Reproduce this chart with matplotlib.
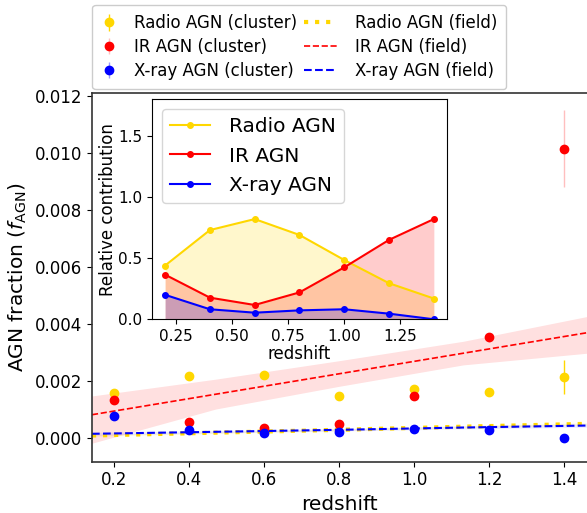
#!/usr/bin/env python3
#
#   AGN fraction vs redshift for cluster members and the field,
#   with an inset showing the relative contribution of each AGN type.
#

import matplotlib
matplotlib.use('Agg')
import matplotlib.pyplot as plt
from matplotlib.legend_handler import HandlerLine2D

# cluster AGN fractions per redshift bin
z = [0.2, 0.4, 0.6, 0.8, 1.0, 1.2, 1.4]
radio_cl = [0.00158, 0.00216, 0.00221, 0.00146, 0.00170, 0.00161, 0.00213]
radio_err = [0.00005, 0.00005, 0.00005, 0.00005, 0.00006, 0.00006, 0.00060]
ir_cl = [0.00130, 0.00054, 0.00033, 0.00047, 0.00146, 0.00352, 0.01015]
ir_err = [0.00006, 0.00005, 0.00005, 0.00005, 0.00007, 0.00015, 0.00135]
xray_cl = [0.00074, 0.00025, 0.00015, 0.00018, 0.00030, 0.00028, 0.00000]
xray_err = [0.00004, 0.00003, 0.00003, 0.00003, 0.00004, 0.00004, 0.00004]

# field trends (best fit and its confidence band)
z_field = [0.14, 0.47, 0.80, 1.13, 1.46]
radio_field = [0.00007, 0.00017, 0.00027, 0.00038, 0.00048]
radio_lo = [0.00004, 0.00014, 0.00024, 0.00034, 0.00044]
radio_hi = [0.00010, 0.00020, 0.00030, 0.00042, 0.00052]
ir_field = [0.00080, 0.00152, 0.00224, 0.00296, 0.00368]
ir_lo = [-0.00020, 0.00100, 0.00180, 0.00255, 0.00296]
ir_hi = [0.00146, 0.00205, 0.00270, 0.00338, 0.00425]
xray_field = [0.00013, 0.00020, 0.00027, 0.00035, 0.00042]
xray_lo = [0.00008, 0.00016, 0.00023, 0.00030, 0.00036]
xray_hi = [0.00018, 0.00024, 0.00031, 0.00040, 0.00048]

# relative contribution of each population
radio_rel = [0.44, 0.73, 0.82, 0.69, 0.485, 0.295, 0.17]
ir_rel = [0.365, 0.177, 0.117, 0.22, 0.425, 0.65, 0.82]
xray_rel = [0.20, 0.082, 0.054, 0.073, 0.082, 0.046, 0.0]


class LongLine(HandlerLine2D):
    # line handle that reaches further left than the legend's handlelength
    def __init__(self, extra=13, **kw):
        HandlerLine2D.__init__(self, **kw)
        self.extra = extra

    def create_artists(self, legend, orig_handle, xdescent, ydescent,
                       width, height, fontsize, trans):
        return HandlerLine2D.create_artists(self, legend, orig_handle,
                                            xdescent + self.extra, ydescent,
                                            width + self.extra, height,
                                            fontsize, trans)


fig = plt.figure(figsize=(5.87, 5.13), dpi=100)
ax = fig.add_axes([0.1567, 0.1, 0.8433, 0.7187])

# field fits
ax.fill_between(z_field, radio_lo, radio_hi, color='gold', alpha=0.12, lw=0)
ax.fill_between(z_field, ir_lo, ir_hi, color='red', alpha=0.12, lw=0)
ax.fill_between(z_field, xray_lo, xray_hi, color='blue', alpha=0.08, lw=0)
fld_radio, = ax.plot(z_field, radio_field, ':', color='gold', lw=3, label='Radio AGN (field)')
fld_ir, = ax.plot(z_field, ir_field, '--', color='red', lw=1.2, label='IR AGN (field)')
fld_xray, = ax.plot(z_field, xray_field, '--', color='blue', lw=1.5, label='X-ray AGN (field)')

# cluster points
cl_radio = ax.errorbar(z, radio_cl, yerr=radio_err, fmt='o', color='gold', ms=6,
                       ecolor='gold', elinewidth=1, label='Radio AGN (cluster)')
cl_ir = ax.errorbar(z, ir_cl, yerr=ir_err, fmt='o', color='red', ms=6,
                    ecolor=(1, 0, 0, 0.25), elinewidth=1, label='IR AGN (cluster)')
cl_xray = ax.errorbar(z, xray_cl, yerr=xray_err, fmt='o', color='blue', ms=6,
                      ecolor=(0, 0, 1, 0.4), elinewidth=1, label='X-ray AGN (cluster)')

ax.set_xlim(0.14, 1.46)
ax.set_ylim(-0.00085, 0.0121)
ax.set_xticks([0.2, 0.4, 0.6, 0.8, 1.0, 1.2, 1.4])
ax.set_yticks([0.0, 0.002, 0.004, 0.006, 0.008, 0.010, 0.012])
ax.tick_params(labelsize=12)
ax.set_xlabel('redshift', fontsize=14.5)
ax.set_ylabel(r'AGN fraction ($f_{\rm AGN}$)', fontsize=14.5)
ax.spines['right'].set_visible(False)
for s in ('left', 'top', 'bottom'):
    ax.spines[s].set_linewidth(1.2)
    ax.spines[s].set_color('#333333')

long_line = LongLine(extra=13)
fig.legend([cl_radio, cl_ir, cl_xray, fld_radio, fld_ir, fld_xray],
           ['Radio AGN (cluster)', 'IR AGN (cluster)', 'X-ray AGN (cluster)',
            'Radio AGN (field)', 'IR AGN (field)', 'X-ray AGN (field)'],
           loc='upper left', bbox_to_anchor=(92.3 / 587, 1 - 5 / 513),
           borderaxespad=0, borderpad=0.55, ncol=2, fontsize=12, framealpha=1,
           handlelength=0.9, handletextpad=1.05, columnspacing=1.5,
           labelspacing=0.35,
           handler_map={fld_radio: long_line, fld_ir: long_line, fld_xray: long_line})

# inset: relative contribution
ins = fig.add_axes([0.2584, 0.3776, 0.5036, 0.4288])
ins.fill_between(z, 0, radio_rel, color='gold', alpha=0.2, lw=0)
ins.fill_between(z, 0, ir_rel, color='red', alpha=0.2, lw=0)
ins.fill_between(z, 0, xray_rel, color='blue', alpha=0.2, lw=0)
ins.plot(z, radio_rel, 'o-', color='gold', ms=4, lw=1.5, label='Radio AGN')
ins.plot(z, ir_rel, 'o-', color='red', ms=4, lw=1.5, label='IR AGN')
ins.plot(z, xray_rel, 'o-', color='blue', ms=4, lw=1.5, label='X-ray AGN')
ins.set_xlim(0.14, 1.46)
ins.set_ylim(0, 1.8)
ins.set_xticks([0.25, 0.5, 0.75, 1.0, 1.25])
ins.set_yticks([0.0, 0.5, 1.0, 1.5])
ins.tick_params(labelsize=11)
ins.set_xlabel('redshift', fontsize=12, labelpad=1)
ins.set_ylabel('Relative contribution', fontsize=12, labelpad=0.5)
ins.legend(loc='upper left', fontsize=14.5, handletextpad=0.95)

fig.savefig('out.png', dpi=100)
